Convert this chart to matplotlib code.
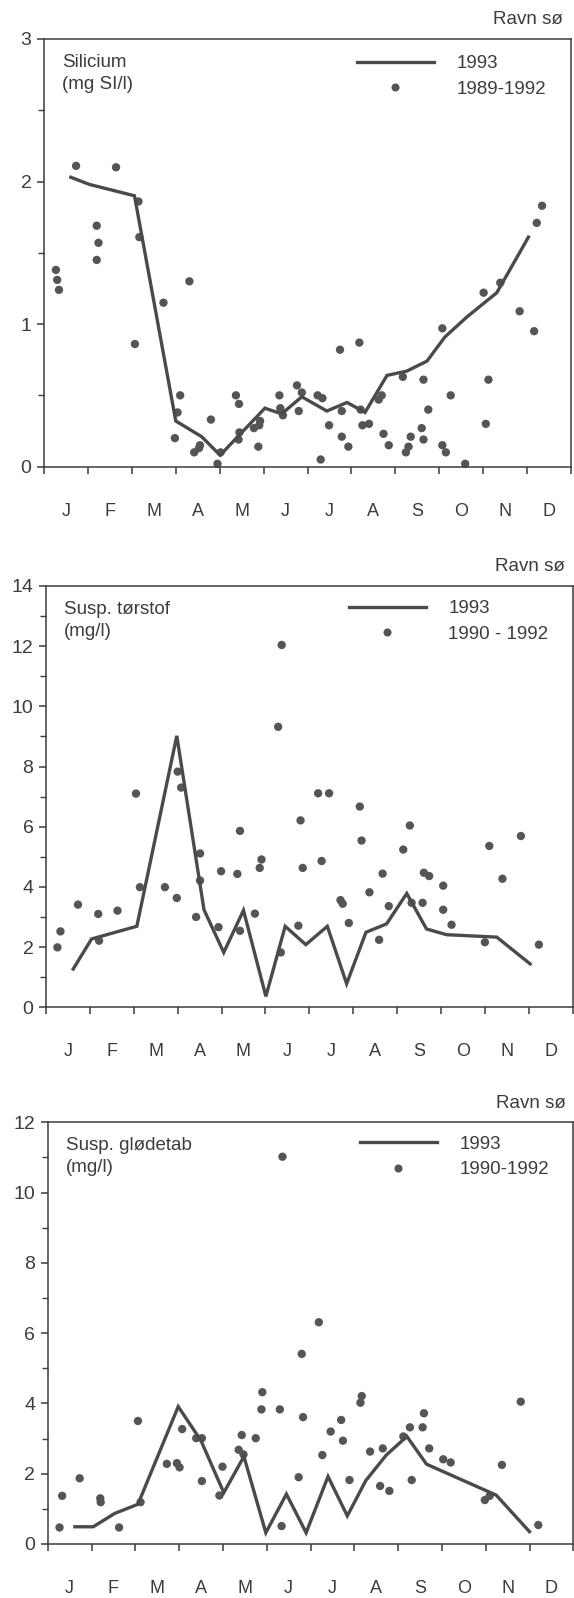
import numpy as np
import matplotlib
matplotlib.use("Agg")
import matplotlib.pyplot as plt
from matplotlib.lines import Line2D
from matplotlib.ticker import MultipleLocator, FixedLocator, NullFormatter, FixedFormatter

plt.rcParams["font.family"] = ["Liberation Sans", "DejaVu Sans"]

months = ["J", "F", "M", "A", "M", "J", "J", "A", "S", "O", "N", "D"]
station = "Ravn sø"

# Silicium, x in months from 1 Jan
si_1993_x = [0.61, 1.03, 2.06, 3.00, 3.59, 4.01, 5.03, 5.41, 5.87, 6.44, 6.90,
             7.31, 7.81, 8.26, 8.72, 9.13, 9.63, 10.31, 11.03]
si_1993_y = [2.03, 1.98, 1.90, 0.32, 0.21, 0.08, 0.41, 0.37, 0.49, 0.39, 0.45,
             0.38, 0.64, 0.67, 0.74, 0.91, 1.05, 1.22, 1.61]
si_old_x = [0.27, 0.30, 0.34, 0.73, 1.20, 1.24, 1.20, 1.64, 2.15, 2.17, 2.07,
            2.72, 3.31, 3.10, 3.04, 2.98, 3.42, 3.53, 3.55, 3.80, 3.95, 4.02,
            4.37, 4.44, 4.45, 4.43, 4.78, 4.92, 4.90, 4.88, 5.36, 5.38, 5.44,
            5.76, 5.80, 5.87, 6.23, 6.34, 6.30, 6.49, 6.74, 6.78, 6.78, 6.93,
            7.18, 7.21, 7.25, 7.40, 7.62, 7.69, 7.73, 7.85, 8.17, 8.24, 8.30,
            8.35, 8.60, 8.64, 8.64, 8.75, 9.07, 9.26, 9.07, 9.15, 9.59, 10.01,
            10.12, 10.06, 10.39, 10.83, 11.16, 11.22, 11.34]
si_old_y = [1.38, 1.31, 1.24, 2.11, 1.69, 1.57, 1.45, 2.10, 1.86, 1.61, 0.86,
            1.15, 1.30, 0.50, 0.38, 0.20, 0.10, 0.13, 0.15, 0.33, 0.02, 0.10,
            0.50, 0.44, 0.24, 0.19, 0.27, 0.32, 0.29, 0.14, 0.50, 0.41, 0.36,
            0.57, 0.39, 0.52, 0.50, 0.48, 0.05, 0.29, 0.82, 0.39, 0.21, 0.14,
            0.87, 0.40, 0.29, 0.30, 0.47, 0.50, 0.23, 0.15, 0.63, 0.10, 0.14,
            0.21, 0.27, 0.19, 0.61, 0.40, 0.97, 0.50, 0.15, 0.10, 0.02, 1.22,
            0.61, 0.30, 1.29, 1.09, 0.95, 1.71, 1.83]

# Suspended dry matter
ts_1993_x = [0.62, 1.04, 2.07, 2.98, 3.60, 4.05, 4.50, 5.01, 5.45, 5.92, 6.41,
             6.85, 7.29, 7.76, 8.22, 8.67, 9.13, 10.27, 11.03]
ts_1993_y = [1.27, 2.27, 2.69, 9.02, 3.24, 1.82, 3.22, 0.36, 2.69, 2.08, 2.69,
             0.78, 2.49, 2.77, 3.78, 2.60, 2.41, 2.33, 1.44]
ts_old_x = [0.26, 0.33, 0.73, 1.19, 1.21, 1.63, 2.05, 2.14, 2.71, 2.98, 3.00,
            3.08, 3.51, 3.51, 3.42, 3.93, 3.99, 4.36, 4.42, 4.42, 4.76, 4.87,
            4.91, 5.29, 5.37, 5.35, 5.80, 5.85, 5.75, 6.20, 6.45, 6.28, 6.71,
            6.76, 6.90, 7.15, 7.19, 7.37, 7.59, 7.67, 7.81, 8.14, 8.29, 8.33,
            8.58, 8.61, 8.73, 9.05, 9.05, 9.24, 10.00, 10.10, 10.40, 10.82, 11.23]
ts_old_y = [1.99, 2.52, 3.41, 3.10, 2.21, 3.21, 7.10, 3.99, 3.99, 3.63, 7.83,
            7.30, 5.11, 4.21, 3.00, 2.66, 4.52, 4.43, 5.86, 2.54, 3.11, 4.63,
            4.91, 9.32, 12.04, 1.82, 6.21, 4.63, 2.71, 7.11, 7.11, 4.86, 3.56,
            3.44, 2.80, 6.67, 5.54, 3.82, 2.24, 4.44, 3.36, 5.24, 6.04, 3.47,
            3.47, 4.47, 4.36, 4.04, 3.24, 2.74, 2.16, 5.36, 4.27, 5.69, 2.08]

# Suspended loss on ignition
gt_1993_x = [0.62, 1.04, 1.53, 2.06, 2.98, 3.50, 4.02, 4.48, 4.98, 5.45, 5.90,
             6.40, 6.84, 7.26, 7.73, 8.20, 8.65, 10.24, 11.00]
gt_1993_y = [0.49, 0.49, 0.87, 1.13, 3.91, 2.94, 1.46, 2.49, 0.32, 1.42, 0.32,
             1.92, 0.80, 1.80, 2.53, 3.06, 2.27, 1.39, 0.35]
gt_old_x = [0.27, 0.33, 0.73, 1.20, 1.21, 1.63, 2.06, 2.12, 2.72, 2.95, 3.01,
            3.07, 3.39, 3.52, 3.52, 3.92, 3.99, 4.36, 4.43, 4.47, 4.75, 4.88,
            4.90, 5.30, 5.36, 5.34, 5.73, 5.80, 5.83, 6.19, 6.27, 6.46, 6.70,
            6.74, 6.89, 7.14, 7.17, 7.36, 7.59, 7.65, 7.80, 8.12, 8.27, 8.31,
            8.56, 8.59, 8.71, 9.03, 9.20, 9.98, 10.09, 10.37, 10.80, 11.20]
gt_old_y = [0.47, 1.37, 1.87, 1.30, 1.19, 0.47, 3.50, 1.19, 2.28, 2.30, 2.18,
            3.27, 3.01, 3.01, 1.79, 1.38, 2.20, 2.68, 3.10, 2.55, 3.01, 3.83,
            4.32, 3.83, 11.02, 0.51, 1.90, 5.41, 3.61, 6.31, 2.53, 3.20, 3.53,
            2.94, 1.82, 4.02, 4.21, 2.63, 1.65, 2.72, 1.51, 3.06, 3.32, 1.82,
            3.32, 3.72, 2.72, 2.41, 2.32, 1.25, 1.37, 2.25, 4.05, 0.54]

INK = "#3c3c3c"
LINE = "#4a4a4a"
DOT = "#555555"

fig = plt.figure(figsize=(5.74, 15.98), dpi=100)


def draw_panel(rect, lx, ly, dx, dy, ymax, major, minor, title, old_label, leg_x, leg_y):
    ax = fig.add_axes(rect)
    ax.plot(lx, ly, color=LINE, lw=2.4, solid_joinstyle="miter", zorder=3)
    ax.scatter(dx, dy, s=36, color=DOT, edgecolors="none", zorder=2, clip_on=False)
    ax.set_xlim(0, 12)
    ax.set_ylim(0, ymax)

    ax.xaxis.set_major_locator(MultipleLocator(1))
    ax.xaxis.set_major_formatter(NullFormatter())
    ax.xaxis.set_minor_locator(FixedLocator(np.arange(12) + 0.5))
    ax.xaxis.set_minor_formatter(FixedFormatter(months))
    ax.yaxis.set_major_locator(MultipleLocator(major))
    ax.yaxis.set_minor_locator(MultipleLocator(minor))

    ax.tick_params(axis="x", which="major", direction="out", length=5, width=1.1, color=INK)
    ax.tick_params(axis="x", which="minor", length=0, pad=26, labelsize=13, labelcolor=INK)
    ax.tick_params(axis="y", which="major", direction="out", length=5, width=1.1,
                   color=INK, labelsize=14, labelcolor=INK, pad=4)
    ax.tick_params(axis="y", which="minor", direction="out", length=4, width=1.0, color=INK)
    for sp in ax.spines.values():
        sp.set_color(INK)
        sp.set_linewidth(1.1)

    ax.text(0.034, 0.965, title, transform=ax.transAxes, ha="left", va="top",
            fontsize=13.5, color=INK, linespacing=1.4)
    ax.text(0.985, 1.025, station, transform=ax.transAxes, ha="right", va="bottom",
            fontsize=13.5, color=INK)

    handles = [Line2D([], [], color=LINE, lw=2.4),
               Line2D([], [], color=DOT, marker="o", ls="none", markersize=5.8,
                      markeredgewidth=0)]
    ax.legend(handles, ["1993", old_label], loc="upper left",
              bbox_to_anchor=(leg_x, leg_y), frameon=False, fontsize=13.5,
              handlelength=4.1, handletextpad=1.2, labelspacing=0.45,
              borderpad=0, borderaxespad=0, labelcolor=INK)
    return ax


draw_panel([0.0767, 0.7080, 0.9181, 0.2676], si_1993_x, si_1993_y, si_old_x, si_old_y,
           3, 1, 0.5, "Silicium\n(mg SI/l)", "1989-1992", 0.594, 0.962)
draw_panel([0.0801, 0.3697, 0.9176, 0.2636], ts_1993_x, ts_1993_y, ts_old_x, ts_old_y,
           14, 2, 1, "Susp. tørstof\n(mg/l)", "1990 - 1992", 0.575, 0.966)
draw_panel([0.0831, 0.0338, 0.9157, 0.2639], gt_1993_x, gt_1993_y, gt_old_x, gt_old_y,
           12, 2, 1, "Susp. glødetab\n(mg/l)", "1990-1992", 0.594, 0.968)

fig.savefig("out.png", dpi=100)
